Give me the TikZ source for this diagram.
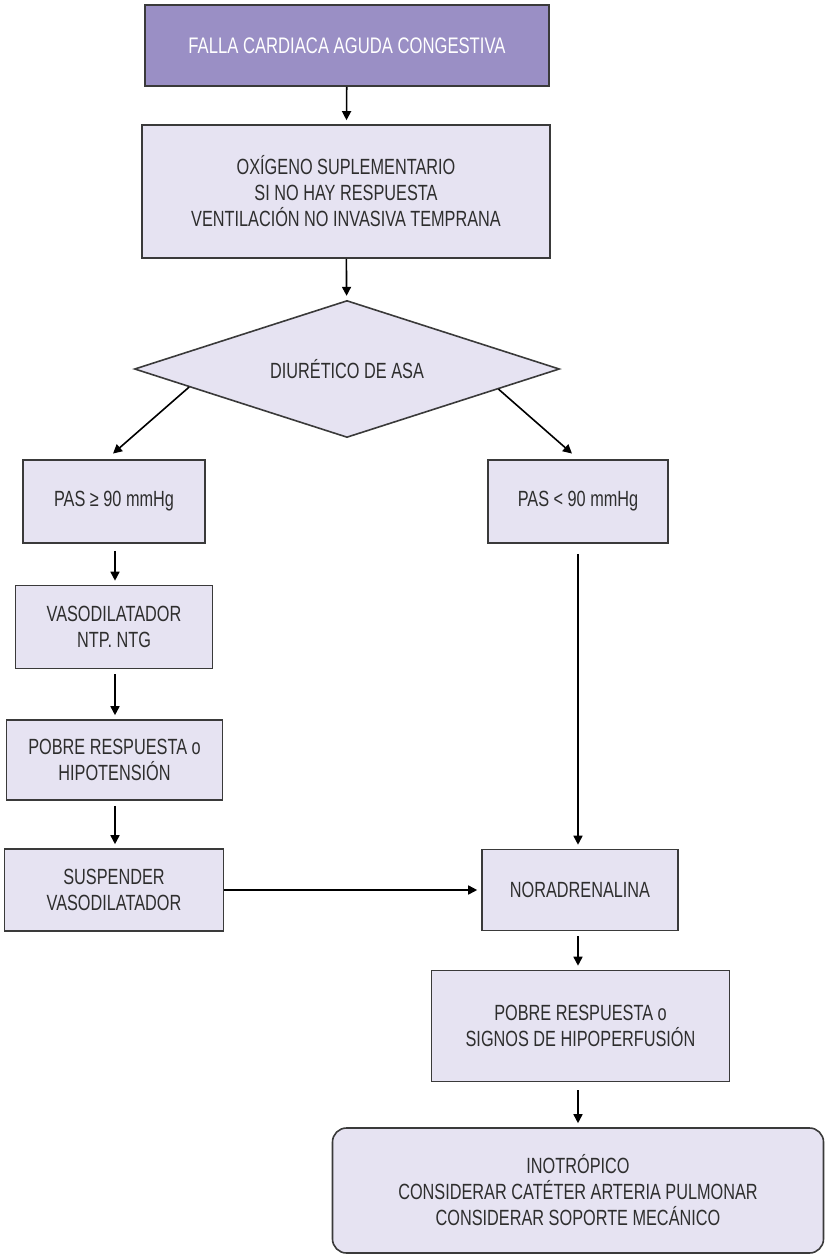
\documentclass[tikz,border=0pt]{standalone}
\usepackage{fontspec}
\setmainfont{Liberation Sans}[FakeStretch=0.74]
\usepackage{xcolor}
\usetikzlibrary{arrows.meta,positioning,calc,shapes.geometric}

\definecolor{headfill}{HTML}{9A8FC5}
\definecolor{boxfill}{HTML}{E6E3F2}
\definecolor{boxline}{HTML}{3A3A3A}
\definecolor{boxtext}{HTML}{2E2E2E}

\begin{document}
\begin{tikzpicture}[
  x=1pt, y=-1pt,
  box/.style={draw=boxline, line width=1.6pt, fill=boxfill, align=center,
    inner sep=0pt, text=boxtext, font=\fontsize{22}{26}\selectfont},
  headbox/.style={box, fill=headfill, text=white,
    font=\fontsize{22.5}{26}\selectfont},
  decision/.style={box, diamond, aspect=3.1, minimum width=425pt,
    minimum height=137pt},
  endbox/.style={box, rounded corners=14pt},
  arr/.style={-{Triangle[length=9pt,width=9pt]}, line width=1.6pt,
    shorten >=4pt},
]
\useasboundingbox (0,0) rectangle (825,1258);

\node[headbox, minimum width=404pt, minimum height=81pt] (F) at (347,45.5)
  {FALLA CARDIACA AGUDA CONGESTIVA};
\node[box, minimum width=408pt, minimum height=133pt] (O) at (346,191.5)
  {OXÍGENO SUPLEMENTARIO\\SI NO HAY RESPUESTA\\VENTILACIÓN NO INVASIVA TEMPRANA};
\node[decision] (D) at (347,369) {DIURÉTICO DE ASA};

% rama izquierda
\node[box, minimum width=182pt, minimum height=83pt] (PA) at (114,501.5)
  {PAS ≥ 90 mmHg};
\node[box, minimum width=197pt, minimum height=83pt] (V) at (114,627)
  {VASODILATADOR\\NTP. NTG};
\node[box, minimum width=216pt, minimum height=80pt] (PH) at (114.5,760)
  {POBRE RESPUESTA o\\HIPOTENSIÓN};
\node[box, minimum width=219pt, minimum height=82pt] (S) at (114,890)
  {SUSPENDER\\VASODILATADOR};

% rama derecha
\node[box, minimum width=180pt, minimum height=83pt] (PB) at (578,501.5)
  {PAS < 90 mmHg};
\node[box, minimum width=196pt, minimum height=81pt] (N) at (580,890)
  {NORADRENALINA};
\node[box, minimum width=298pt, minimum height=111pt] (PS) at (580.5,1026)
  {POBRE RESPUESTA o\\SIGNOS DE HIPOPERFUSIÓN};
\node[endbox, minimum width=491pt, minimum height=125pt] (I) at (578,1190.5)
  {INOTRÓPICO\\CONSIDERAR CATÉTER ARTERIA PULMONAR\\CONSIDERAR SOPORTE MECÁNICO};

\draw[arr] (F) -- (O);
\draw[arr] (O) -- (D);
\draw[arr] ($(D.west)!0.26!(D.south)$) -- ([xshift=-4pt,yshift=3pt]PA.north);
\draw[arr] ($(D.east)!0.29!(D.south)$) -- ([xshift=-3pt,yshift=3pt]PB.north);
\draw[arr, shorten <=7pt] ([xshift=1pt]PA.south) -- ([xshift=1pt]V.north);
\draw[arr, shorten <=5pt] ([xshift=1pt]V.south) -- ([xshift=0.5pt]PH.north);
\draw[arr, shorten <=5pt] ([xshift=0.5pt]PH.south) -- ([xshift=1pt]S.north);
\draw[arr, shorten <=10pt] (PB.south) -- ([xshift=-2pt]N.north);
\draw[arr] (S) -- (N);
\draw[arr, shorten <=5pt] ([xshift=-2pt]N.south) -- ([xshift=-2.5pt]PS.north);
\draw[arr, shorten <=8pt] ([xshift=-2.5pt]PS.south) -- (I);
\end{tikzpicture}
\end{document}
